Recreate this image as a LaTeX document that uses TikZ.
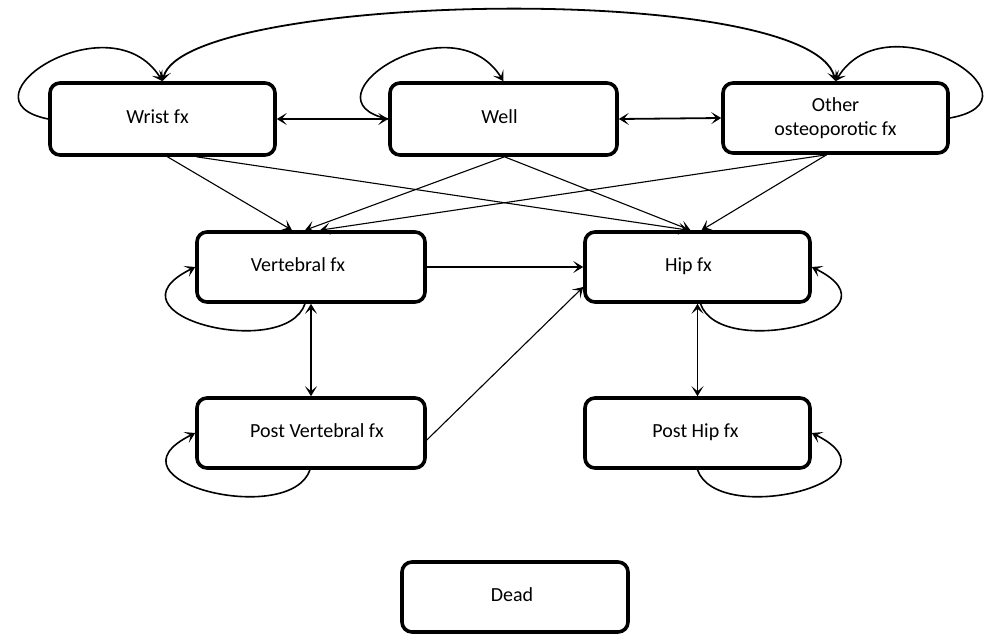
\documentclass[tikz,border=0pt]{standalone}
\usepackage{fontspec}
\setmainfont{Carlito}
\usetikzlibrary{arrows.meta}
\newcommand\bxt[2]{\raisebox{5pt}{\hspace*{#1}#2\hspace*{-#1}}}
\begin{document}
\begin{tikzpicture}[x=1pt,y=-1pt,
  stbox/.style={draw, line width=3.6pt, rounded corners=10pt, minimum height=70pt,
    inner sep=0pt, fill=white, font=\fontsize{20}{24}\selectfont},
  tipend/.style={-{Stealth[length=10pt,width=12pt,inset=5pt]}},
  tipboth/.style={{Stealth[length=10pt,width=12pt,inset=5pt]}-{Stealth[length=10pt,width=12pt,inset=5pt]}},
  link/.style={line width=1.8pt},
  diag/.style={line width=1.1pt},
  selfloop/.style={line width=1.6pt}
]
\useasboundingbox (0,0) rectangle (992,634);

% nodes
\node[stbox, minimum width=225pt, minimum height=72pt] (wrist) at (162.5,119) {\bxt{-5pt}{Wrist fx}};
\node[stbox, minimum width=227pt, minimum height=72pt] (well) at (503.5,119) {\bxt{-4pt}{Well}};
\node[stbox, minimum width=225pt, minimum height=70pt, align=center] (other) at (835.5,118) {Other\\osteoporotic fx};
\node[stbox, minimum width=228pt] (vert) at (311,267) {\bxt{-13pt}{Vertebral fx}};
\node[stbox, minimum width=225pt] (hip) at (697.5,267) {\bxt{-9pt}{Hip fx}};
\node[stbox, minimum width=228pt] (pvert) at (311,433) {\bxt{6pt}{Post Vertebral fx}};
\node[stbox, minimum width=225pt] (phip) at (697.5,433) {\bxt{-2pt}{Post Hip fx}};
\node[stbox, minimum width=226pt] (dead) at (515,597) {\bxt{-3pt}{Dead}};

% top row links
\draw[link, tipboth] (wrist.east) -- (well.west);
\draw[link, tipboth] (well.east) -- (other.west);
\draw[link, tipboth] (wrist.north) .. controls (185,-8) and (810,-20) .. (other.north);

% top row self loops
\draw[selfloop, tipend] (wrist.west) .. controls +(-95,-19) and +(-52,-83) .. (wrist.north);
\draw[selfloop, tipend] (well.west) .. controls +(-90,-19) and +(-52,-83) .. (well.north);
\draw[selfloop, tipend] (other.east) .. controls +(102,-18) and +(52,-85) .. (other.north);

% diagonals
\draw[diag, tipend] ([xshift=5pt]wrist.south) -- ([xshift=-19pt]vert.north);
\draw[diag, tipend] ([xshift=34pt]wrist.south) -- ([xshift=-9pt]hip.north);
\draw[diag, tipend] ([xshift=1pt]well.south) -- ([xshift=-6pt]vert.north);
\draw[diag, tipend] ([xshift=1pt]well.south) -- ([xshift=-7pt]hip.north);
\draw[diag, tipend] ([xshift=-9pt]other.south) -- ([xshift=9pt]vert.north);
\draw[diag, tipend] ([xshift=-9pt]other.south) -- ([xshift=4pt]hip.north);

% middle links
\draw[diag, tipend] (vert.east) -- (hip.west);
\draw[diag, tipend] ([yshift=-7pt]pvert.east) -- ([yshift=-20pt]hip.west);
\draw[link, tipboth] (vert.south) -- (pvert.north);
\draw[link, tipboth] (hip.south) -- (phip.north);

% lower self loops
\draw[selfloop, tipend] ([xshift=-6pt]vert.south) .. controls +(-20,58) and +(-97,48) .. (vert.west);
\draw[selfloop, tipend] ([xshift=3pt]hip.south) .. controls +(20,58) and +(97,48) .. (hip.east);
\draw[selfloop, tipend] ([xshift=-1pt]pvert.south) .. controls +(-20,58) and +(-97,48) .. (pvert.west);
\draw[selfloop, tipend] ([xshift=0pt]phip.south) .. controls +(20,58) and +(97,48) .. (phip.east);
\end{tikzpicture}
\end{document}
